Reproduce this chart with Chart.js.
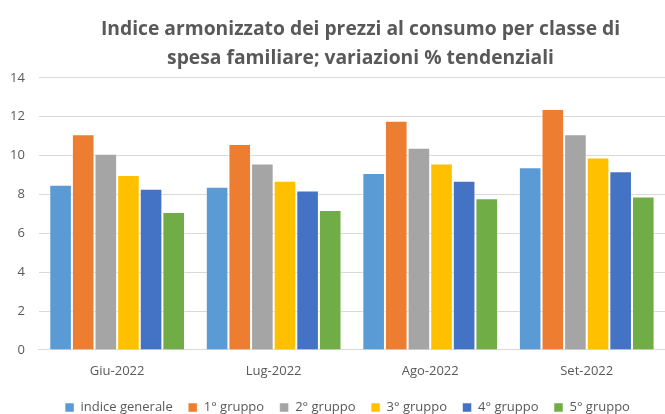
<!DOCTYPE html>
<html>
<head>
<meta charset="utf-8">
<script src="https://cdn.jsdelivr.net/npm/chart.js@4"></script>
<style>
  html, body { margin: 0; padding: 0; background: #fff; }
  #wrap { width: 665px; height: 414px; }
</style>
</head>
<body>
<div id="wrap"><canvas id="chart"></canvas></div>
<script>
const months = ['Giu-2022', 'Lug-2022', 'Ago-2022', 'Set-2022'];
const indiceGenerale = [8.5, 8.4, 9.1, 9.4];
const gruppo1 = [11.1, 10.6, 11.8, 12.4];
const gruppo2 = [10.1, 9.6, 10.4, 11.1];
const gruppo3 = [9.0, 8.7, 9.6, 9.9];
const gruppo4 = [8.3, 8.2, 8.7, 9.2];
const gruppo5 = [7.1, 7.2, 7.8, 7.9];
const yTicks = [0, 2, 4, 6, 8, 10, 12, 14];

const seriesNames = ['indice generale', '1° gruppo', '2° gruppo', '3° gruppo', '4° gruppo', '5° gruppo'];
const seriesValues = [indiceGenerale, gruppo1, gruppo2, gruppo3, gruppo4, gruppo5];
const colors = ['#5b9bd5', '#ed7d31', '#a5a5a5', '#ffc000', '#4472c4', '#70ad47'];

const fontFamily = "'Open Sans', 'Noto Sans', sans-serif";
const textColor = '#595959';

// the title and legend sit a bit right of centre in the original
const shiftBoxes = {
    id: 'shiftBoxes',
    afterLayout(chart) {
        if (chart.titleBlock) {
            chart.titleBlock.left += 27;
            chart.titleBlock.right += 27;
        }
        if (chart.legend) {
            chart.legend.left += 14;
            chart.legend.right += 14;
        }
    }
};

new Chart(document.getElementById('chart'), {
    type: 'bar',
    data: {
        labels: months,
        datasets: seriesNames.map((name, i) => ({
            label: name,
            data: seriesValues[i],
            backgroundColor: colors[i],
            borderColor: 'rgba(255,255,255,0.5)',
            borderWidth: 1,
            categoryPercentage: 0.867,
            barPercentage: 1.0
        }))
    },
    plugins: [shiftBoxes],
    options: {
        responsive: true,
        maintainAspectRatio: false,
        animation: false,
        layout: { padding: { left: -4, right: -6, top: 15, bottom: -10 } },
        plugins: {
            title: {
                display: true,
                text: ['Indice armonizzato dei prezzi al consumo per classe di', 'spesa familiare; variazioni % tendenziali'],
                color: textColor,
                font: { family: fontFamily, size: 19.3, weight: 'bold', lineHeight: 1.5 },
                padding: { top: 0, bottom: 5 }
            },
            legend: {
                position: 'bottom',
                labels: {
                    color: textColor,
                    font: { family: fontFamily, size: 13 },
                    boxWidth: 9,
                    boxHeight: 9,
                    padding: 15.5
                }
            },
            tooltip: { enabled: false }
        },
        scales: {
            x: {
                grid: { display: false },
                border: { color: '#d9d9d9' },
                ticks: { color: textColor, font: { family: fontFamily, size: 13 }, padding: 6 }
            },
            y: {
                min: 0,
                max: 14,
                afterBuildTicks: axis => { axis.ticks = yTicks.map(v => ({ value: v })); },
                ticks: { color: textColor, font: { family: fontFamily, size: 13 }, padding: 14 },
                grid: { color: '#d9d9d9', drawTicks: false },
                border: { display: false }
            }
        }
    }
});
</script>
</body>
</html>
